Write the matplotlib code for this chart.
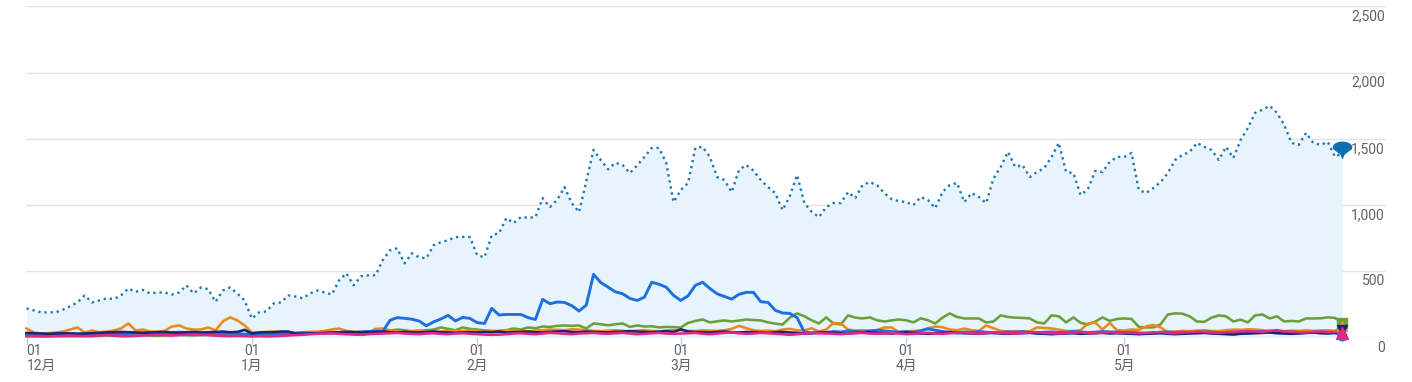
import numpy as np
import matplotlib
matplotlib.use("Agg")
import matplotlib.pyplot as plt
from matplotlib.path import Path

# ---------------- data (daily, 1 Dec .. 31 May) ----------------
month_ticks = ["12月", "1月", "2月", "3月", "4月", "5月"]
month_start_day = [0, 31, 62, 90, 121, 151]
y_ticks = [0, 500, 1000, 1500, 2000, 2500]
y_tick_labels = ["0", "500", "1,000", "1,500", "2,000", "2,500"]

total = (
    [220, 205, 190, 190, 190, 210, 235, 265, 318, 265, 280, 295, 290, 318, 370, 345, 360, 333, 340, 340, 325, 340, 394, 333, 378, 365, 270, 355, 378, 333, 280]
    + [143, 190, 197, 257, 265, 318, 310, 295, 333, 355, 340, 325, 432, 485, 394, 462, 470, 470, 583, 659, 674, 560, 636, 606, 598, 697, 720, 735, 758, 760, 758]
    + [621, 606, 773, 788, 902, 864, 909, 905, 909, 1053, 985, 1040, 1136, 1015, 947, 1180, 1417, 1340, 1270, 1320, 1303, 1242, 1300, 1364, 1432, 1432, 1318, 1023]
    + [1114, 1167, 1432, 1440, 1364, 1212, 1189, 1098, 1265, 1303, 1260, 1190, 1136, 1090, 962, 1070, 1227, 1015, 950, 909, 985, 1015, 1015, 1098, 1053, 1152, 1174, 1150, 1091, 1045, 1030]
    + [1023, 1000, 1061, 1038, 977, 1100, 1152, 1167, 1023, 1091, 1061, 1015, 1200, 1288, 1402, 1288, 1303, 1212, 1250, 1280, 1364, 1470, 1250, 1242, 1076, 1120, 1258, 1250, 1326, 1364]
    + [1364, 1394, 1114, 1091, 1129, 1174, 1242, 1341, 1379, 1402, 1470, 1440, 1417, 1341, 1440, 1356, 1492, 1583, 1697, 1720, 1750, 1697, 1606, 1470, 1455, 1545, 1470, 1455, 1477, 1364, 1394]
)

blue = (
    [30, 28, 25, 22, 25, 28, 30, 27, 25, 28, 30, 32, 30, 28, 30, 33, 35, 32, 30, 35, 38, 40, 38, 35, 32, 30, 28, 30, 33, 30, 25]
    + [28, 30, 32, 30, 28, 30, 32, 35, 33, 30, 32, 35, 38, 40, 38, 42, 45, 48, 45, 130, 150, 145, 138, 125, 88, 118, 140, 167, 125, 152, 144]
    + [112, 106, 220, 170, 174, 174, 174, 150, 136, 288, 255, 268, 265, 240, 200, 245, 477, 415, 380, 345, 330, 295, 280, 305, 417, 402, 380, 318]
    + [280, 315, 394, 417, 370, 330, 310, 290, 326, 341, 341, 270, 265, 205, 185, 182, 150, 40, 35, 40, 38, 45, 42, 50, 45, 40, 48, 55, 50, 45, 40]
    + [45, 38, 50, 65, 55, 45, 40, 35, 42, 38, 45, 40, 35, 38, 42, 40, 45, 38, 35, 40, 42, 38, 40, 45, 42, 38, 40, 45, 42, 40]
    + [38, 40, 35, 32, 35, 40, 42, 38, 40, 35, 38, 42, 40, 35, 32, 38, 40, 35, 42, 45, 40, 38, 42, 40, 38, 35, 40, 42, 38, 35, 10]
)

green = (
    [10, 8, 8, 10, 12, 10, 8, 10, 12, 10, 12, 15, 12, 10, 12, 15, 18, 15, 12, 15, 18, 20, 18, 15, 18, 20, 15, 12, 15, 18, 15]
    + [12, 15, 18, 20, 18, 22, 25, 28, 30, 32, 35, 32, 38, 40, 38, 42, 45, 40, 45, 53, 60, 55, 48, 50, 55, 60, 76, 65, 55, 76, 65]
    + [60, 53, 50, 45, 55, 68, 60, 76, 70, 83, 80, 88, 91, 88, 91, 68, 106, 100, 92, 100, 106, 80, 91, 83, 85, 76, 80, 78]
    + [76, 110, 125, 136, 114, 122, 129, 121, 128, 136, 132, 129, 114, 105, 98, 150, 182, 160, 130, 106, 152, 106, 98, 167, 150, 144, 152, 130, 121, 129, 136]
    + [130, 114, 145, 130, 106, 150, 182, 155, 144, 144, 144, 114, 121, 167, 155, 150, 148, 144, 114, 106, 167, 160, 114, 152, 110, 98, 120, 152, 125, 140]
    + [144, 140, 80, 76, 76, 100, 174, 182, 180, 160, 121, 118, 150, 167, 160, 121, 135, 114, 167, 174, 144, 160, 121, 125, 121, 144, 144, 145, 152, 148, 110]
)

orange = (
    [68, 38, 30, 32, 38, 45, 60, 76, 38, 53, 40, 45, 53, 68, 106, 53, 60, 45, 45, 50, 83, 91, 68, 60, 60, 76, 53, 121, 152, 129, 91]
    + [38, 40, 42, 45, 40, 38, 35, 40, 42, 45, 50, 60, 68, 50, 45, 40, 38, 65, 68, 55, 45, 42, 48, 52, 45, 42, 45, 50, 52, 48, 55]
    + [50, 45, 48, 52, 55, 50, 48, 45, 52, 55, 60, 58, 55, 62, 60, 55, 50, 48, 52, 55, 50, 48, 52, 55, 50, 45, 52, 55]
    + [55, 50, 48, 55, 52, 50, 55, 65, 88, 70, 55, 50, 52, 48, 60, 65, 55, 53, 70, 45, 60, 110, 106, 60, 53, 55, 53, 55, 76, 76, 40]
    + [45, 50, 53, 70, 83, 78, 60, 55, 68, 55, 50, 91, 70, 50, 45, 48, 45, 48, 76, 72, 68, 60, 50, 48, 55, 106, 114, 60, 110, 55]
    + [53, 60, 58, 83, 95, 76, 40, 45, 50, 48, 52, 55, 50, 48, 55, 60, 58, 62, 60, 55, 50, 52, 48, 52, 50, 55, 50, 52, 55, 50, 85]
)

navy = (
    [35, 32, 30, 28, 30, 32, 30, 28, 30, 32, 35, 38, 40, 42, 40, 38, 35, 38, 40, 42, 38, 35, 40, 42, 38, 40, 42, 45, 40, 42, 58]
    + [30, 38, 40, 40, 45, 45, 30, 28, 30, 32, 35, 38, 40, 42, 40, 38, 40, 42, 45, 40, 38, 42, 40, 38, 42, 45, 40, 38, 35, 38, 40]
    + [38, 42, 40, 45, 38, 40, 42, 45, 40, 38, 42, 45, 48, 42, 40, 45, 42, 40, 38, 42, 45, 48, 45, 42, 40, 45, 48, 42]
    + [62, 45, 42, 40, 38, 42, 45, 40, 38, 42, 40, 38, 35, 40, 42, 38, 35, 30, 32, 35, 38, 35, 32, 30, 35, 38, 40, 35, 32, 30, 35]
    + [38, 35, 30, 28, 32, 35, 38, 35, 32, 30, 28, 32, 35, 30, 28, 30, 32, 35, 30, 28, 25, 28, 30, 32, 28, 30, 32, 35, 30, 32]
    + [30, 28, 25, 28, 30, 32, 28, 25, 28, 30, 32, 35, 30, 28, 25, 22, 28, 30, 32, 35, 38, 32, 30, 28, 30, 35, 38, 32, 30, 35, 58]
)

magenta = (
    [10, 12, 10, 8, 10, 12, 15, 12, 10, 12, 15, 18, 15, 12, 10, 12, 15, 18, 20, 18, 15, 18, 20, 22, 20, 18, 15, 12, 10, 12, 10]
    + [8, 10, 8, 10, 12, 15, 18, 20, 25, 28, 30, 32, 28, 25, 22, 20, 25, 28, 30, 32, 35, 30, 28, 25, 30, 32, 28, 25, 30, 32, 28]
    + [25, 22, 20, 22, 25, 30, 32, 28, 25, 30, 35, 32, 28, 25, 30, 32, 35, 30, 28, 32, 35, 30, 25, 28, 32, 35, 30, 28]
    + [30, 32, 35, 28, 25, 30, 35, 38, 32, 28, 30, 35, 32, 28, 25, 20, 25, 30, 35, 32, 30, 28, 25, 30, 32, 35, 30, 28, 32, 35, 30]
    + [25, 28, 32, 35, 30, 28, 32, 35, 38, 32, 30, 35, 38, 35, 32, 30, 35, 38, 40, 35, 32, 30, 35, 38, 40, 35, 32, 38, 40, 35]
    + [38, 35, 32, 35, 38, 40, 35, 32, 38, 40, 45, 42, 38, 35, 40, 42, 45, 48, 45, 42, 50, 55, 45, 42, 40, 38, 42, 45, 40, 42, 35]
)

# ---------------- figure ----------------
W, H = 1412, 382
fig = plt.figure(figsize=(W / 100, H / 100), dpi=100)
left_px, right_px, top_px, bot_px = 26, 1386, 6.5, 337.5
ax = fig.add_axes([left_px / W, 1 - bot_px / H, (right_px - left_px) / W, (bot_px - top_px) / H])

n = len(total)
days = np.arange(n)
px_per_day = 7.27
x0 = 26.5
ax.set_xlim((left_px - x0) / px_per_day, (right_px - x0) / px_per_day)
ax.set_ylim(0, 2500)

for s in ax.spines.values():
    s.set_visible(False)
ax.set_xticks([])
ax.set_yticks([])

grid_c = "#e3e3e3"
for v in y_ticks:
    ax.axhline(v, color=grid_c, lw=1.0, zorder=0)

FILL = "#e8f4fc"
ax.fill_between(days, 0, total, color=FILL, lw=0, zorder=1)

lw = 1.85
ax.plot(days, green, color="#6c9f3a", lw=lw, zorder=3, clip_on=False)
ax.plot(days, blue, color="#1e6fe0", lw=2.1, zorder=4, clip_on=False)
ax.plot(days, orange, color="#e98a1a", lw=lw, zorder=3, clip_on=False)
ax.plot(days, navy, color="#1c2470", lw=lw, zorder=5, clip_on=False)
ax.plot(days, magenta, color="#e0288a", lw=lw, zorder=6, clip_on=False)
ax.plot(days, total, color="#1f78b4", lw=1.7, ls=(0, (1.0, 1.6)),
        dash_capstyle="butt", zorder=7, clip_on=False)

# end markers
last = n - 1
ax.plot([last], [blue[-1]], marker="o", ms=6, mfc="white", mec="#1e6fe0", mew=1.2, ls="none", zorder=8, clip_on=False)
ax.plot([last], [green[-1]], marker="s", ms=7, color="#6c9f3a", ls="none", zorder=9, clip_on=False)
ax.plot([last], [orange[-1]], marker="^", ms=7.5, color="#e98a1a", ls="none", zorder=10, clip_on=False)
ax.plot([last], [navy[-1]], marker="v", ms=7, color="#1c2470", ls="none", zorder=11, clip_on=False)
ax.plot([last], [magenta[-1]], marker="^", ms=8, color="#e0288a", ls="none", zorder=12, clip_on=False)

t = np.linspace(np.radians(200), np.radians(-20), 20)
verts = [(np.cos(a), 0.25 + 0.55 * np.sin(a)) for a in t] + [(0.15, -0.55), (0, -0.95), (-0.15, -0.55)]
verts.append(verts[0])
drop = Path(verts)
ax.plot([last], [total[-1] + 30], marker=drop, ms=13, color="#0b6fb2", ls="none", zorder=13, clip_on=False)

# y tick labels (right side, below the grid line)
txt_c = "#5f6368"
fam = ["Roboto", "Noto Sans CJK JP", "DejaVu Sans"]
for v, lab in zip(y_ticks, y_tick_labels):
    ypx = bot_px - v * (bot_px - top_px) / 2500 + 10
    fig.text(1385 / W, 1 - ypx / H, lab, ha="right", va="center", fontsize=10,
             color=txt_c, family=fam)

# x ticks and month labels
for i, (d, m) in enumerate(zip(month_start_day, month_ticks)):
    xp = x0 + d * px_per_day
    fig.add_artist(plt.Line2D([xp / W, xp / W], [1 - 338 / H, 1 - 344 / H], color="#cccccc", lw=1))
    ha = "left" if i == 0 else "center"
    fig.text(xp / W, 1 - 351 / H, "01", ha=ha, va="center", fontsize=10, color=txt_c, family=fam)
    fig.text(xp / W, 1 - 366 / H, m, ha=ha, va="center", fontsize=10, color=txt_c, family=fam)

fig.savefig("out.png", dpi=100)
